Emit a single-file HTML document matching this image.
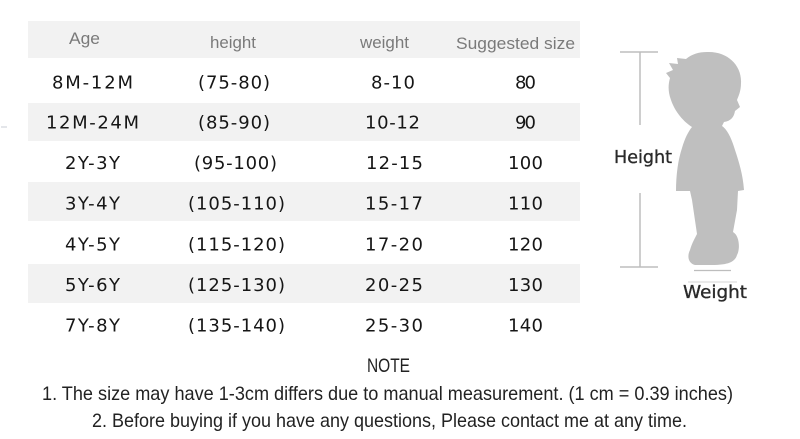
<!DOCTYPE html>
<html>
<head>
<meta charset="utf-8">
<style>
  html, body { margin: 0; padding: 0; background: #ffffff; }
  body { width: 800px; height: 439px; overflow: hidden; }
  svg { display: block; }
  .hd { font-family: "Liberation Sans", Arial, sans-serif; font-size: 17px; fill: #7a7a7a; }
  .bd { font-family: "DejaVu Sans", "Liberation Sans", sans-serif; font-size: 18px; fill: #161616; }
  .nt { font-family: "Liberation Sans", Arial, sans-serif; font-size: 19.5px; fill: #222222; }
  .lb { font-family: "DejaVu Sans", "Liberation Sans", sans-serif; font-size: 18px; fill: #2a2a2a; stroke: #2a2a2a; stroke-width: 0.35; }
</style>
</head>
<body>
<svg width="800" height="439" viewBox="0 0 800 439" xmlns="http://www.w3.org/2000/svg">
  <rect x="0" y="0" width="800" height="439" fill="#ffffff"/>

  <!-- table bands -->
  <rect x="28" y="21" width="552" height="37" fill="#f2f2f2"/>
  <rect x="28" y="103" width="552" height="38" fill="#f2f2f2"/>
  <rect x="28" y="182" width="552" height="39" fill="#f2f2f2"/>
  <rect x="28" y="264" width="552" height="39" fill="#f2f2f2"/>

  <!-- header -->
  <text class="hd" x="69" y="44" textLength="31" lengthAdjust="spacingAndGlyphs">Age</text>
  <text class="hd" x="210" y="48" textLength="46" lengthAdjust="spacingAndGlyphs">height</text>
  <text class="hd" x="360" y="48" textLength="49" lengthAdjust="spacingAndGlyphs">weight</text>
  <text class="hd" x="456" y="49" textLength="119" lengthAdjust="spacingAndGlyphs">Suggested size</text>

  <!-- row 1 -->
  <text class="bd" x="52" y="88.5" textLength="81" lengthAdjust="spacing">8M-12M</text>
  <text class="bd" x="198" y="88.5" textLength="72" lengthAdjust="spacing">(75-80)</text>
  <text class="bd" x="371" y="88.5" textLength="44" lengthAdjust="spacing">8-10</text>
  <text class="bd" x="515" y="88.5" textLength="21" lengthAdjust="spacing">80</text>

  <!-- row 2 -->
  <text class="bd" x="46" y="128.5" textLength="93" lengthAdjust="spacing">12M-24M</text>
  <text class="bd" x="198" y="128.5" textLength="72" lengthAdjust="spacing">(85-90)</text>
  <text class="bd" x="365" y="128.5" textLength="55" lengthAdjust="spacing">10-12</text>
  <text class="bd" x="515" y="128.5" textLength="21" lengthAdjust="spacing">90</text>

  <!-- row 3 -->
  <text class="bd" x="65" y="169" textLength="55" lengthAdjust="spacing">2Y-3Y</text>
  <text class="bd" x="194" y="169" textLength="83" lengthAdjust="spacing">(95-100)</text>
  <text class="bd" x="366" y="169" textLength="57" lengthAdjust="spacing">12-15</text>
  <text class="bd" x="508" y="169" textLength="35" lengthAdjust="spacing">100</text>

  <!-- row 4 -->
  <text class="bd" x="65" y="209.5" textLength="55" lengthAdjust="spacing">3Y-4Y</text>
  <text class="bd" x="188" y="209.5" textLength="97" lengthAdjust="spacing">(105-110)</text>
  <text class="bd" x="365" y="209.5" textLength="58" lengthAdjust="spacing">15-17</text>
  <text class="bd" x="508" y="209.5" textLength="35" lengthAdjust="spacing">110</text>

  <!-- row 5 -->
  <text class="bd" x="65" y="250.5" textLength="55" lengthAdjust="spacing">4Y-5Y</text>
  <text class="bd" x="188" y="250.5" textLength="97" lengthAdjust="spacing">(115-120)</text>
  <text class="bd" x="365" y="250.5" textLength="58" lengthAdjust="spacing">17-20</text>
  <text class="bd" x="508" y="250.5" textLength="35" lengthAdjust="spacing">120</text>

  <!-- row 6 -->
  <text class="bd" x="65" y="291" textLength="55" lengthAdjust="spacing">5Y-6Y</text>
  <text class="bd" x="188" y="291" textLength="97" lengthAdjust="spacing">(125-130)</text>
  <text class="bd" x="365" y="291" textLength="58" lengthAdjust="spacing">20-25</text>
  <text class="bd" x="508" y="291" textLength="35" lengthAdjust="spacing">130</text>

  <!-- row 7 -->
  <text class="bd" x="65" y="331.5" textLength="55" lengthAdjust="spacing">7Y-8Y</text>
  <text class="bd" x="188" y="331.5" textLength="97" lengthAdjust="spacing">(135-140)</text>
  <text class="bd" x="365" y="331.5" textLength="58" lengthAdjust="spacing">25-30</text>
  <text class="bd" x="508" y="331.5" textLength="35" lengthAdjust="spacing">140</text>

  <!-- tiny mark on left edge -->
  <line x1="1" y1="127" x2="7" y2="127" stroke="#c8ccd4" stroke-width="1"/>

  <!-- height measure lines -->
  <g stroke="#bdbdbd" stroke-width="1.5" fill="none">
    <line x1="620" y1="52" x2="658" y2="52"/>
    <line x1="640" y1="52" x2="640" y2="125"/>
    <line x1="640" y1="193" x2="640" y2="267"/>
    <line x1="620" y1="267" x2="658" y2="267"/>
  </g>
  <line x1="694" y1="270.5" x2="731" y2="270.5" stroke="#bdbdbd" stroke-width="1.3"/>
  <line x1="688" y1="282" x2="737" y2="282" stroke="#d6d6d6" stroke-width="1"/>

  <!-- child silhouette -->
  <path fill="#bfbfbf" d="
    M 707 52
    C 727 51 742 65 741 83
    C 741 92 738 97 737 100
    L 740 107
    L 735 111
    C 734 117 731 121 724 122
    L 722 126
    C 728 130 732 140 735 150
    C 739 162 743 175 744 190
    L 738 191
    L 737 210
    L 733 232
    C 740 236 740 250 737 255
    C 735 262 728 265 712 265
    L 695 265
    C 688 263 687 256 690 250
    C 692 243 695 238 697 234
    L 692 200
    L 690 191
    L 676 191
    C 676 175 678 160 682 148
    C 685 138 688 132 692 127
    C 684 122 675 112 671 100
    C 668 92 668 85 670 78
    L 666 73 L 673 70 L 669 63 L 678 64 L 677 58 L 686 59
    C 692 54 699 52 707 52 Z"/>

  <!-- labels -->
  <text class="lb" x="614" y="163" textLength="58" lengthAdjust="spacingAndGlyphs">Height</text>
  <text class="lb" x="683" y="298" textLength="64" lengthAdjust="spacingAndGlyphs">Weight</text>

  <!-- notes -->
  <text class="nt" x="367" y="372" textLength="43" lengthAdjust="spacingAndGlyphs">NOTE</text>
  <text class="nt" x="42" y="400" textLength="691" lengthAdjust="spacingAndGlyphs">1. The size may have 1-3cm differs due to manual measurement. (1 cm = 0.39 inches)</text>
  <text class="nt" x="92" y="427" textLength="595" lengthAdjust="spacingAndGlyphs">2. Before buying if you have any questions, Please contact me at any time.</text>
</svg>
</body>
</html>
